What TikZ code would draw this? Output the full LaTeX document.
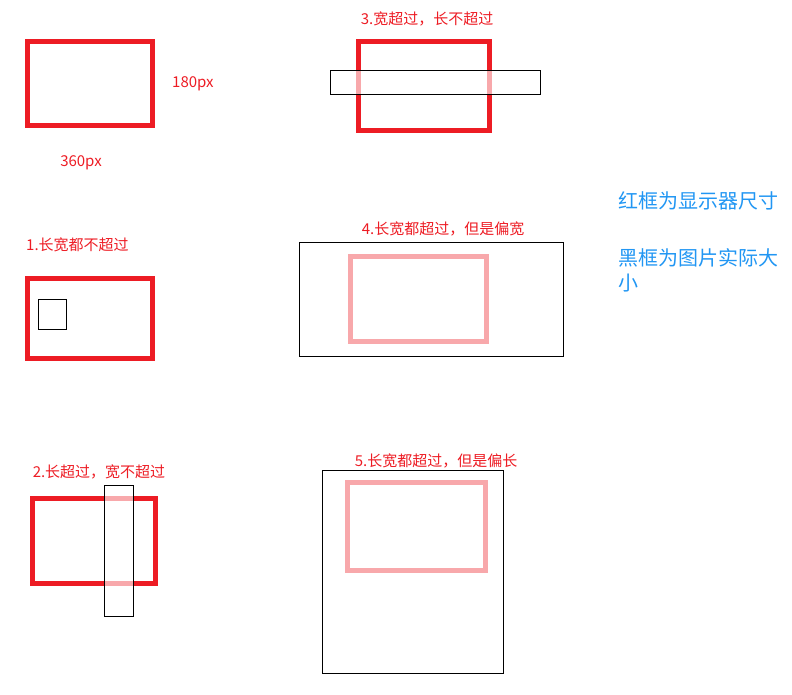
\documentclass[tikz,border=0pt]{standalone}
\usepackage{fontspec}
\setmainfont{Noto Sans CJK SC}
\usetikzlibrary{positioning}
\definecolor{scrRed}{RGB}{237,28,36}
\definecolor{noteBlue}{RGB}{33,150,243}

\begin{document}
\begin{tikzpicture}[x=1pt,y=-1pt,
  scr/.style={draw=scrRed,line width=5pt,inner sep=0pt},
  img/.style={draw=black,line width=1pt,fill=white,fill opacity=0.62,inner sep=0pt},
  caption/.style={text=scrRed,font=\fontsize{15}{18}\selectfont,inner sep=0pt},
  note/.style={text=noteBlue,font=\fontsize{20}{25}\selectfont,inner sep=0pt,align=left}]
\useasboundingbox (0,0) rectangle (792,694);
% screen size
\node[scr,minimum width=125pt,minimum height=84pt] (scr0) at (90,83.5) {};
\node[caption,right=17pt of scr0] (h0) {180px};
\node[caption] (w0) at (81,163) {360px};
% case 1
\node[caption,anchor=west] (t1) at (26,245) {1.长宽都不超过};
\node[scr,minimum width=125pt,minimum height=80pt] (scr1) at (90,318.5) {};
\node[img,minimum width=28pt,minimum height=30pt] (img1) at (52.5,314) {};
% case 2
\node[caption] (t2) at (99,471.5) {2.长超过，宽不超过};
\node[scr,minimum width=123pt,minimum height=85pt] (scr2) at (94,541) {};
\node[img,minimum width=29pt,minimum height=131pt] (img2) at (119,551) {};
% case 3
\node[caption] (t3) at (427,19) {3.宽超过，长不超过};
\node[scr,minimum width=131pt,minimum height=89pt] (scr3) at (424,85.5) {};
\node[img,minimum width=210pt,minimum height=24pt] (img3) at (435,82.5) {};
% case 4
\node[caption] (t4) at (443,229) {4.长宽都超过，但是偏宽};
\node[scr,minimum width=136pt,minimum height=85pt] (scr4) at (418.5,299) {};
\node[img,minimum width=264pt,minimum height=114pt] (img4) at (431,299) {};
% case 5
\node[caption] (t5) at (436,460.5) {5.长宽都超过，但是偏长};
\node[scr,minimum width=138pt,minimum height=88pt] (scr5) at (416.5,526.5) {};
\node[img,minimum width=181pt,minimum height=203pt] (img5) at (412.5,571.5) {};
% legend
\node[note,anchor=west] (n1) at (618,201) {红框为显示器尺寸};
\node[note,anchor=north west] (n2) at (618,248) {黑框为图片实际大\\小};
\end{tikzpicture}
\end{document}
